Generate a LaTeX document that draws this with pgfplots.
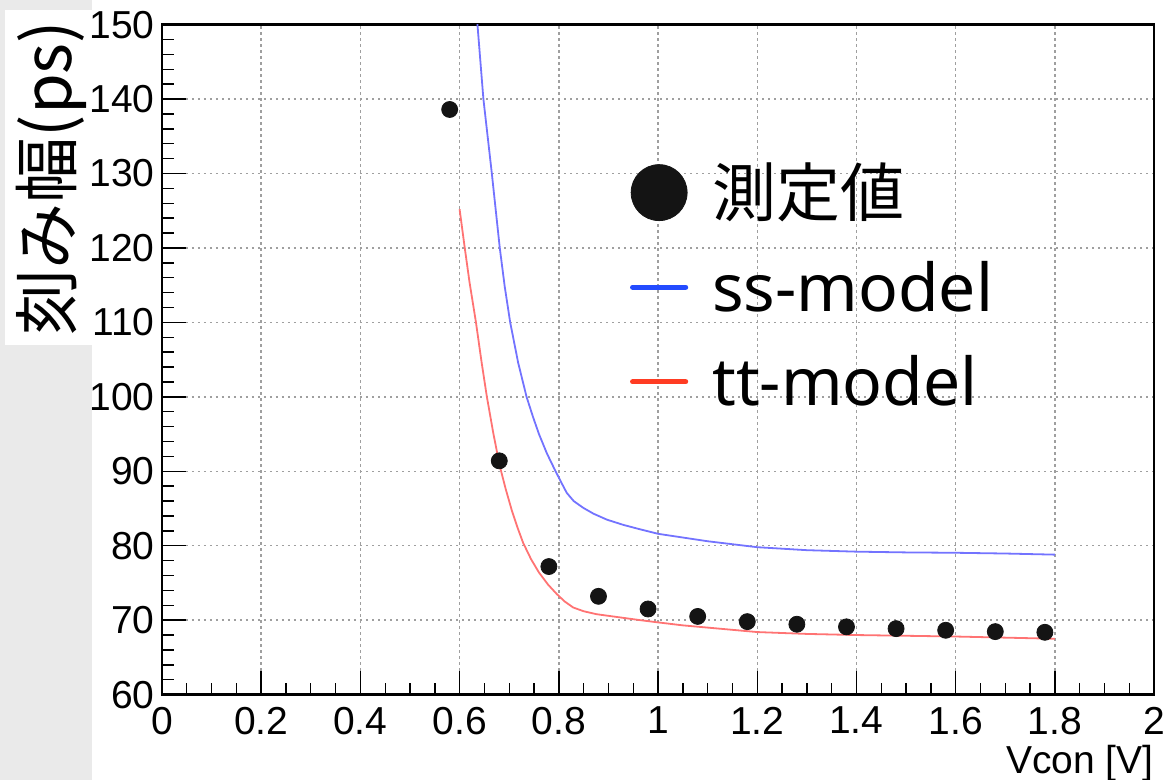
\documentclass[border=0pt]{standalone}
\usepackage{fontspec}
\setmainfont{Liberation Sans}
\newfontfamily\cjk{Noto Sans CJK JP}
\newfontfamily\notosans{Noto Sans}
\usepackage{graphicx}
\usepackage{pgfplots}
\pgfplotsset{compat=1.18}
\usepackage{pgfplotstable}

\definecolor{bgray}{RGB}{234,234,234}
\definecolor{ssline}{RGB}{115,115,255}
\definecolor{ttline}{RGB}{255,115,115}
\definecolor{sslegend}{RGB}{35,75,255}
\definecolor{ttlegend}{RGB}{255,60,35}
\definecolor{markc}{RGB}{20,20,20}

\pgfplotstableread{
x y
0.58 138.6
0.68 91.4
0.78 77.2
0.88 73.2
0.98 71.5
1.08 70.5
1.18 69.8
1.28 69.45
1.38 69.1
1.48 68.86
1.58 68.64
1.68 68.46
1.78 68.37
}\measured

\pgfplotstableread{
x y
0.629 156
0.636 150
0.648 140
0.665 130
0.681 120
0.691 114.8
0.702 110
0.718 104.6
0.735 100
0.748 97.3
0.760 95.0
0.776 92.4
0.792 90.2
0.805 88.5
0.816 87.1
0.830 86.0
0.849 85.1
0.870 84.3
0.897 83.5
0.930 82.8
0.964 82.2
1.0 81.6
1.05 81.1
1.1 80.6
1.15 80.2
1.2 79.8
1.3 79.4
1.4 79.2
1.5 79.1
1.6 79.05
1.7 78.95
1.8 78.8
}\ssmodel

\pgfplotstableread{
x y
0.600 125.2
0.610 120.2
0.620 115.4
0.633 110
0.644 104.8
0.655 100
0.668 95.1
0.681 90.7
0.693 87.6
0.705 84.8
0.717 82.4
0.728 80.4
0.744 78.2
0.760 76.4
0.778 74.8
0.796 73.5
0.812 72.5
0.829 71.7
0.850 71.2
0.876 70.8
0.920 70.4
0.964 70.0
1.000 69.7
1.05 69.3
1.1 69.0
1.15 68.7
1.2 68.4
1.3 68.15
1.4 68.0
1.5 67.9
1.6 67.8
1.7 67.65
1.8 67.5
}\ttmodel

\begin{document}
\begin{tikzpicture}
\useasboundingbox (0,0) rectangle (584pt,390pt);
\fill[bgray] (0,0) rectangle (46pt,390pt);
\fill[white] (2.5pt,217.5pt) rectangle (46pt,385pt);
\begin{axis}[
  at={(81pt,42.7pt)}, anchor=south west,
  scale only axis, width=496pt, height=335pt,
  xmin=0, xmax=2, ymin=60, ymax=150,
  xtick={0,0.2,0.4,0.6,0.8,1,1.2,1.4,1.6,1.8,2},
  xticklabels={0,0.2,0.4,0.6,0.8,1,1.2,1.4,1.6,1.8,2},
  ytick={60,70,80,90,100,110,120,130,140,150},
  minor x tick num=3, minor y tick num=4,
  tick pos=left, tick align=inside,
  major tick length=12pt, minor tick length=6pt,
  grid=major,
  major grid style={gray!75, line width=0.7pt, dash pattern=on 1.2pt off 1.8pt},
  axis line style={line width=1.2pt},
  every tick/.style={black, line width=0.7pt},
  /pgf/number format/assume math mode=true,
  tick label style={font=\fontsize{19.5}{20}\selectfont, inner sep=0pt},
  xticklabel style={yshift=-6pt},
  yticklabel style={xshift=-3.5pt},
  xlabel={Vcon [V]},
  xlabel style={at={(rel axis cs:1,0)}, anchor=north east, inner sep=0pt, yshift=-25pt, font=\fontsize{19.5}{20}\selectfont},
  ylabel={\cjk 刻み幅(ps)},
  ylabel style={at={(rel axis cs:-0.1119,0.771)}, anchor=center, inner sep=0pt, font=\fontsize{33}{33}\selectfont},
  legend style={at={(rel axis cs:0.4718,0.797)}, anchor=north west,
    draw=none, fill=none, inner sep=0pt, outer sep=0pt,
    font=\notosans\fontsize{33}{33}\selectfont,
    nodes={inner sep=0pt, text height=28pt, text depth=4pt},
    row sep=15.3pt, column sep=12pt},
  legend cell align=left,
]
\addplot[only marks, mark=*, mark size=4pt, color=markc,
  legend image code/.code={\fill[markc] (13.25pt,0pt) circle (14pt);}]
  table[x=x,y=y] {\measured};
\addplot[ssline, line width=0.9pt, line join=round,
  legend image code/.code={\draw[sslegend, line width=2.6pt, line cap=round] (0pt,0pt) -- (26.5pt,0pt);}]
  table[x=x,y=y] {\ssmodel};
\addplot[ttline, line width=0.9pt, line join=round,
  legend image code/.code={\draw[ttlegend, line width=2.6pt, line cap=round] (0pt,0pt) -- (26.5pt,0pt);}]
  table[x=x,y=y] {\ttmodel};
\legend{{\cjk\fontsize{32}{32}\selectfont 測定値}, ss-model, tt-model}
\end{axis}
\end{tikzpicture}
\end{document}
